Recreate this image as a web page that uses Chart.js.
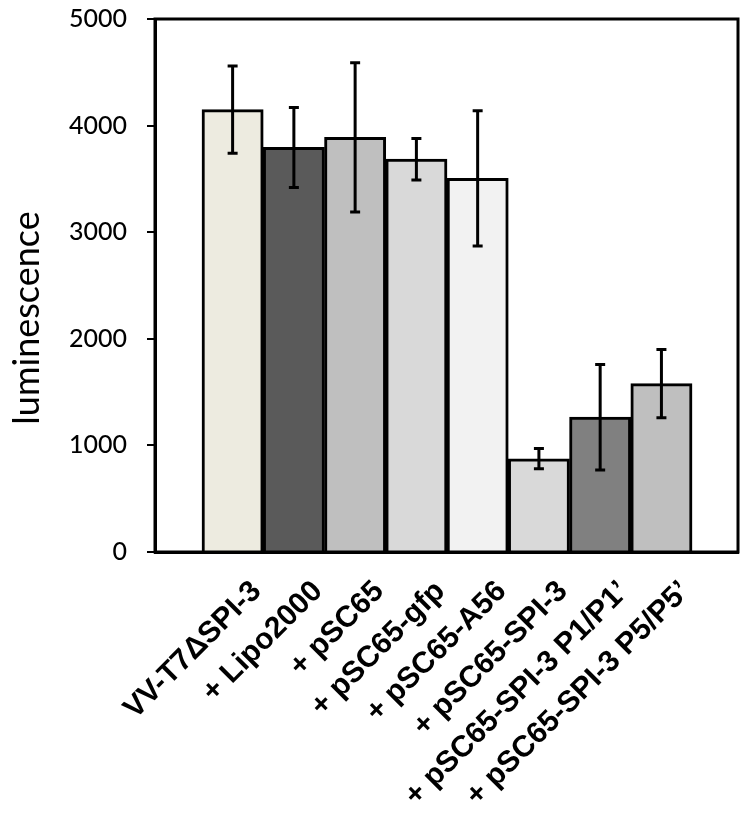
<!DOCTYPE html>
<html>
<head>
<meta charset="utf-8">
<script src="https://cdn.jsdelivr.net/npm/chart.js@4.4.0/dist/chart.umd.min.js"></script>
<style>
  body { margin: 0; background: #fff; }
  #chart { display: block; }
</style>
</head>
<body>
<canvas id="chart" width="750" height="814"></canvas>
<script>
// categories along the x axis
const categories = [
  "VV-T7\u0394SPI-3",
  "+ Lipo2000",
  "+ pSC65",
  "+ pSC65-gfp",
  "+ pSC65-A56",
  "+ pSC65-SPI-3",
  "+ pSC65-SPI-3 P1/P1\u2019",
  "+ pSC65-SPI-3 P5/P5\u2019"
];
// mean luminescence and error (+/-)
const means = [4150, 3795, 3890, 3685, 3505, 875, 1265, 1580];
const errors = [410, 375, 700, 195, 635, 95, 495, 320];
const barColors = ['#edebe0', '#5a5a5a', '#bfbfbf', '#d9d9d9', '#f2f2f2', '#d9d9d9', '#808080', '#bfbfbf'];
const yTicks = [0, 1000, 2000, 3000, 4000, 5000];
const yTitle = "luminescence";

// error bars + frame + y title
const extras = {
  id: 'extras',
  afterDatasetsDraw(chart) {
    const ctx = chart.ctx;
    const xs = chart.scales.x, ys = chart.scales.y;
    ctx.save();
    ctx.strokeStyle = '#000';
    ctx.lineWidth = 3;
    means.forEach((m, i) => {
      const x = xs.getPixelForValue(i);
      const top = ys.getPixelForValue(m + errors[i]);
      const bot = ys.getPixelForValue(m - errors[i]);
      ctx.beginPath();
      ctx.moveTo(x, top); ctx.lineTo(x, bot);
      ctx.moveTo(x - 5, top); ctx.lineTo(x + 5, top);
      ctx.moveTo(x - 5, bot); ctx.lineTo(x + 5, bot);
      ctx.stroke();
    });
    const a = chart.chartArea;
    ctx.strokeRect(a.left, a.top, a.right - a.left, a.bottom - a.top);
    ctx.restore();
  },
  afterDraw(chart) {
    const ctx = chart.ctx;
    ctx.save();
    ctx.translate(27, 318);
    ctx.rotate(-Math.PI / 2);
    ctx.font = '36px Lato';
    ctx.fillStyle = '#000';
    ctx.textAlign = 'center';
    ctx.textBaseline = 'middle';
    ctx.fillText(yTitle, 0, 0);
    ctx.restore();
  }
};

new Chart(document.getElementById('chart').getContext('2d'), {
  type: 'bar',
  data: {
    datasets: [{
      data: means.map((v, i) => ({ x: i, y: v })),
      backgroundColor: barColors,
      borderColor: '#000',
      borderWidth: 3,
      barPercentage: 1,
      categoryPercentage: 1
    }]
  },
  options: {
    responsive: false,
    animation: false,
    layout: { padding: { top: 19, right: 12, left: 0, bottom: 0 } },
    plugins: { legend: { display: false }, tooltip: { enabled: false } },
    scales: {
      x: {
        type: 'linear',
        offset: false,
        min: -1.267,
        max: 8.25,
        grid: { display: false },
        border: { display: true, color: '#000', width: 3 },
        afterBuildTicks: axis => { axis.ticks = categories.map((c, i) => ({ value: i })); },
        afterFit: axis => { axis.height = 262; },
        ticks: {
          autoSkip: false,
          minRotation: 45,
          maxRotation: 45,
          padding: 14,
          labelOffset: 24,
          color: '#000',
          font: { family: '"Liberation Sans", Arial', weight: 'bold', size: 30 },
          callback: v => categories[v] ?? ''
        }
      },
      y: {
        min: 0,
        max: 5000,
        afterBuildTicks: axis => { axis.ticks = yTicks.map(v => ({ value: v })); },
        afterFit: axis => { axis.width = 155; axis.paddingTop = 0; axis.paddingBottom = 0; },
        grid: { drawOnChartArea: false, drawTicks: true, tickLength: 8, color: '#000', lineWidth: 2 },
        border: { display: true, color: '#000', width: 3 },
        ticks: {
          padding: 20,
          color: '#000',
          font: { family: 'Lato', size: 25, weight: '500' },
          callback: v => String(v)
        }
      }
    }
  },
  plugins: [extras]
});
</script>
</body>
</html>
